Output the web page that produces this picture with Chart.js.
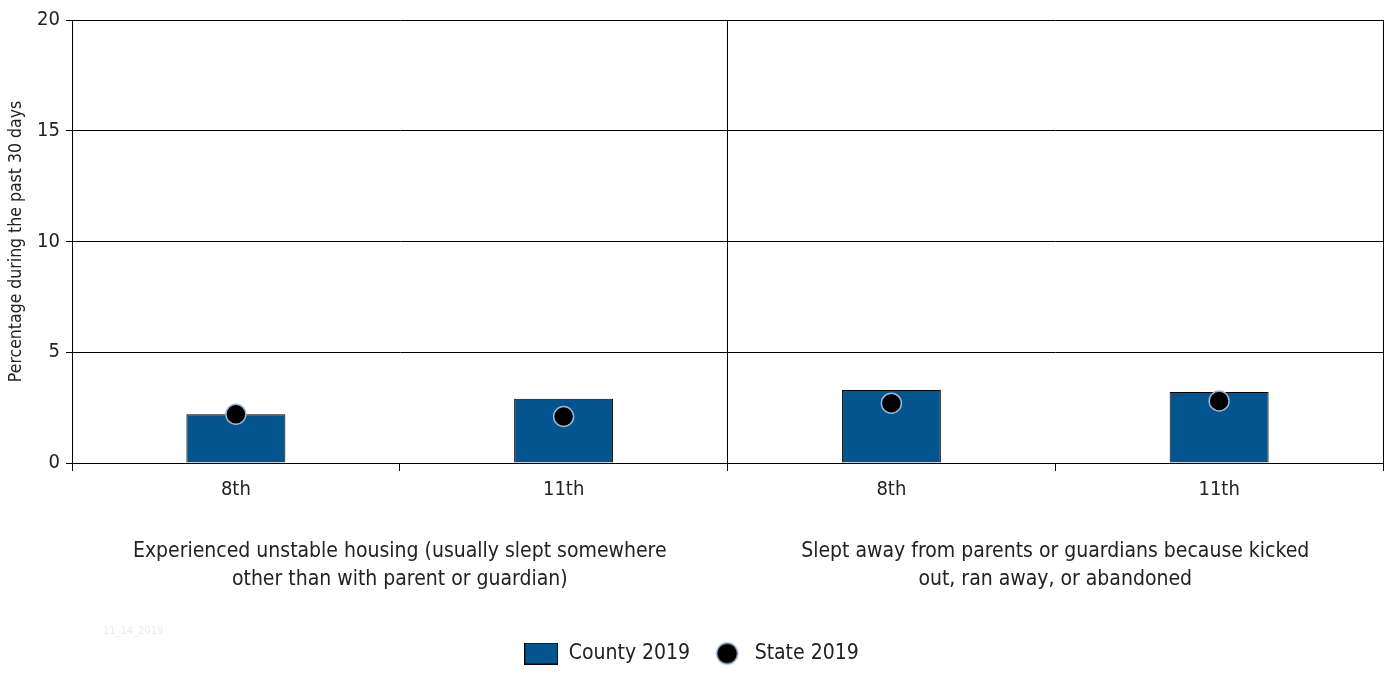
<!DOCTYPE html>
<html>
<head>
<meta charset="utf-8">
<script src="https://cdn.jsdelivr.net/npm/chart.js@4.4.1/dist/chart.umd.min.js"></script>
<style>
  html, body { margin: 0; padding: 0; background: #fff; }
  #wrap { width: 1388px; height: 694px; }
</style>
</head>
<body>
<div id="wrap"><canvas id="chart" width="1388" height="694"></canvas></div>
<script>
// data
const gradeLabels = ['8th', '11th', '8th', '11th'];
const groupLabels = [
  ['Experienced unstable housing (usually slept somewhere', 'other than with parent or guardian)'],
  ['Slept away from parents or guardians because kicked', 'out, ran away, or abandoned'],
];
const countyValues = [2.2, 2.9, 3.3, 3.2];
const stateValues = [2.2, 2.1, 2.7, 2.8];
const yMin = 0;
const yMax = 20;
const yStep = 5;
const yTitle = 'Percentage during the past 30 days';
const seriesNames = ['County 2019', 'State 2019'];

const FONT = "'Liberation Sans Narrow', 'Arial Narrow', 'DejaVu Sans Condensed', sans-serif";
const countyColor = '#02558f';
const stateBorder = '#9db5d3';
const textColor = '#222';

// small canvases used as legend markers
function legendIcon(w, h, draw) {
  const c = document.createElement('canvas');
  c.width = w;
  c.height = h;
  draw(c.getContext('2d'));
  return c;
}
const countyIcon = legendIcon(34, 22, (ctx) => {
  ctx.fillStyle = countyColor;
  ctx.fillRect(0.5, 0.5, 33, 21);
  ctx.strokeStyle = '#000';
  ctx.lineWidth = 1;
  ctx.strokeRect(0.5, 0.5, 33, 21);
});
const stateIcon = legendIcon(24, 24, (ctx) => {
  ctx.beginPath();
  ctx.arc(12, 12, 10.5, 0, Math.PI * 2);
  ctx.fillStyle = '#000';
  ctx.fill();
  ctx.strokeStyle = stateBorder;
  ctx.lineWidth = 1.5;
  ctx.stroke();
});

// faint date stamp at the lower left
const watermark = {
  id: 'watermark',
  afterDraw(chart) {
    const ctx = chart.ctx;
    ctx.save();
    ctx.font = `11px ${FONT}`;
    ctx.fillStyle = '#ececec';
    ctx.textBaseline = 'middle';
    ctx.fillText('11_14_2019', 103, 631);
    ctx.restore();
  },
};

// the label half-widths would otherwise shrink the plot on the right
function fixBottomAxis(height) {
  return (s) => {
    s.height = height;
    s.paddingLeft = 0;
    s.paddingRight = 0;
  };
}

const ctx = document.getElementById('chart').getContext('2d');
new Chart(ctx, {
  data: {
    labels: gradeLabels,
    datasets: [
      {
        type: 'bar',
        label: seriesNames[0],
        data: countyValues,
        backgroundColor: countyColor,
        borderColor: '#000',
        borderWidth: 1,
        barPercentage: 0.302,
        categoryPercentage: 1,
        order: 2,
      },
      {
        type: 'line',
        label: seriesNames[1],
        data: stateValues,
        showLine: false,
        pointRadius: 10,
        pointHoverRadius: 10,
        pointBackgroundColor: '#000',
        pointBorderColor: stateBorder,
        pointBorderWidth: 1.5,
        order: 1,
      },
    ],
  },
  options: {
    responsive: false,
    animation: false,
    layout: { autoPadding: false, padding: { top: 20, right: 5, bottom: 20, left: 0 } },
    scales: {
      x: {
        type: 'category',
        offset: true,
        weight: 0,
        grid: { offset: true, drawOnChartArea: false, color: '#000', tickLength: 8 },
        border: { color: '#000' },
        ticks: {
          color: textColor,
          font: { family: FONT, size: 20 },
          padding: 7,
          maxRotation: 0,
          autoSkip: false,
        },
        afterFit: fixBottomAxis(40),
      },
      x2: {
        type: 'category',
        labels: groupLabels,
        position: 'bottom',
        offset: true,
        weight: 1,
        grid: { offset: true, drawOnChartArea: true, drawTicks: false, color: '#000' },
        border: { display: false },
        ticks: {
          color: textColor,
          font: { family: FONT, size: 21, lineHeight: 1.33 },
          padding: 35,
          maxRotation: 0,
          autoSkip: false,
        },
        afterFit: fixBottomAxis(120),
      },
      y: {
        min: yMin,
        max: yMax,
        ticks: {
          stepSize: yStep,
          color: textColor,
          font: { family: FONT, size: 20 },
          padding: 6,
        },
        grid: { color: '#000', tickLength: 6 },
        border: { color: '#000' },
        title: {
          display: true,
          text: yTitle,
          color: textColor,
          font: { family: FONT, size: 17.5 },
          padding: { top: 6, bottom: 0 },
        },
        afterFit: (s) => { s.width = 72; },
      },
    },
    plugins: {
      tooltip: { enabled: false },
      legend: {
        position: 'bottom',
        labels: {
          usePointStyle: true,
          pointStyleWidth: 34,
          boxHeight: 22,
          padding: 20,
          color: textColor,
          font: { family: FONT, size: 21 },
          sort: (a, b) => a.datasetIndex - b.datasetIndex,
          generateLabels(chart) {
            const items = Chart.defaults.plugins.legend.labels.generateLabels(chart);
            items.forEach((it) => {
              it.pointStyle = it.datasetIndex === 0 ? countyIcon : stateIcon;
            });
            return items;
          },
        },
      },
    },
  },
  plugins: [watermark],
});
</script>
</body>
</html>
